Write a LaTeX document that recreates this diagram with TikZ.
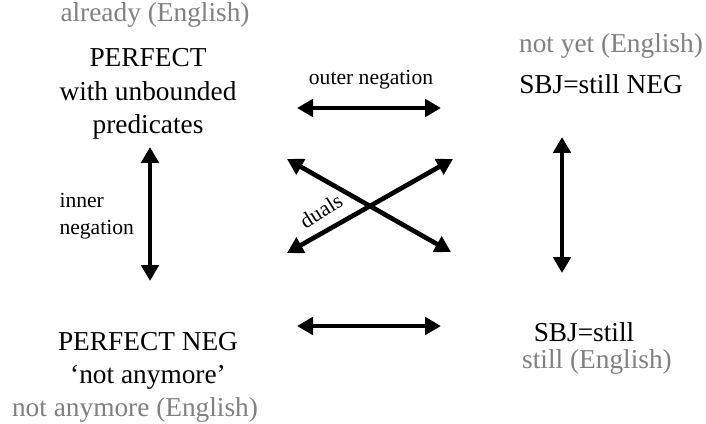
\documentclass[tikz,border=0pt]{standalone}
\usepackage{fontspec}
\setmainfont{Liberation Serif}
\usetikzlibrary{arrows.meta}

\tikzset{every picture/.style={line width=0.75pt}}
\tikzset{
  main/.style={font=\fontsize{20.5}{25}\selectfont, align=center, inner sep=0.75pt},
  eng/.style={main, color={rgb, 255:red, 128; green, 128; blue, 128 }},
  lab/.style={font=\fontsize{16.2}{20}\selectfont, align=left, inner sep=0.75pt},
  dbl/.style={line width=3.5pt, {Triangle[length=12pt,width=13pt]}-{Triangle[length=12pt,width=13pt]}},
}

\begin{document}
\begin{tikzpicture}[x=0.75pt,y=0.75pt,yscale=-1,xscale=1]
\path[use as bounding box] (0,0) rectangle (706,424);

% Text Node
\node[eng] (already) at (155,15) {already (English)};
% Text Node
\node[main] (perf) at (148,94) {PERFECT\\with unbounded\\predicates};
% Text Node
\node[eng] (notyet) at (611,46) {not yet (English)};
% Text Node
\node[main] (stillneg) at (601,84) {SBJ=still NEG};
% Text Node
\node[main] (perfneg) at (148,361) {PERFECT NEG\\`not anymore'};
% Text Node
\node[eng] (notany) at (135,410) {not anymore (English)};
% Text Node
\node[main] (sbjstill) at (584,332) {SBJ=still};
% Text Node
\node[eng] (stilleng) at (597,362) {still (English)};

% Labels
\node[lab] (outer) at (371,80) {outer negation};
\node[lab, anchor=west] (inner) at (58,216) {inner\\negation};
\node[lab, rotate=32] (duals) at (321,211) {duals};

% Arrow ends
\coordinate (o1) at (297,108);
\coordinate (o2) at (441,108);
\coordinate (b1) at (297,326);
\coordinate (b2) at (441,326);
\coordinate (l1) at (150,147);
\coordinate (l2) at (150,281);
\coordinate (r1) at (562,137);
\coordinate (r2) at (562,273);
\coordinate (x1) at (287,159);
\coordinate (x2) at (451,252);
\coordinate (y1) at (287,253);
\coordinate (y2) at (453,159);

%Straight Lines
\draw[dbl] (o1) -- (o2);
\draw[dbl] (b1) -- (b2);
\draw[dbl] (l1) -- (l2);
\draw[dbl] (r1) -- (r2);
\draw[dbl] (x1) -- (x2);
\draw[dbl] (y1) -- (y2);

\end{tikzpicture}
\end{document}
